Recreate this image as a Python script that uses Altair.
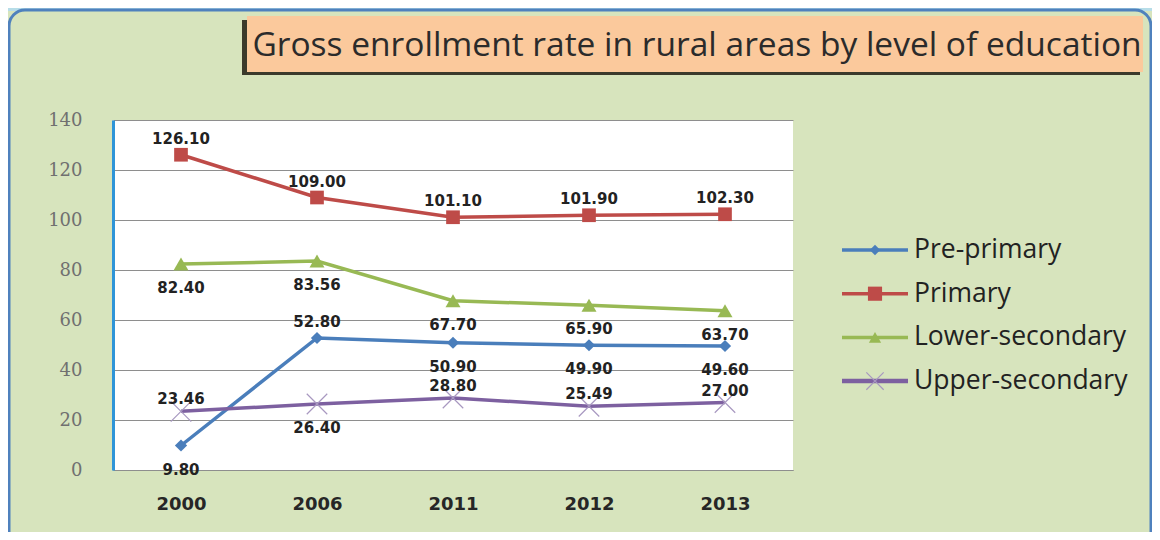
import altair as alt
import pandas as pd

# ---------------- data ----------------
years = ["2000", "2006", "2011", "2012", "2013"]
series_names = ["Pre-primary", "Primary", "Lower-secondary", "Upper-secondary"]
pre_primary = [9.80, 52.80, 50.90, 49.90, 49.60]
primary = [126.10, 109.00, 101.10, 101.90, 102.30]
lower_secondary = [82.40, 83.56, 67.70, 65.90, 63.70]
upper_secondary = [23.46, 26.40, 28.80, 25.49, 27.00]
y_ticks = [0, 20, 40, 60, 80, 100, 120, 140]
title_text = "Gross enrollment rate in rural areas by level of education"

# where each value label sits relative to its point
pre_primary_side = ["below", "above", "below", "below", "below"]
primary_side = ["above", "above", "above", "above", "above"]
lower_secondary_side = ["below", "below", "below", "below", "below"]
upper_secondary_side = ["above", "below", "above", "above", "above"]

rows = []
for name, vals, sides in zip(
    series_names,
    [pre_primary, primary, lower_secondary, upper_secondary],
    [pre_primary_side, primary_side, lower_secondary_side, upper_secondary_side],
):
    for yr, v, s in zip(years, vals, sides):
        rows.append({"year": yr, "series": name, "value": v,
                     "label": f"{v:.2f}", "side": s})
df = pd.DataFrame(rows)

colors = ["#4a7ebb", "#be4b48", "#98b954", "#7d60a0"]
X_PATH = "M-1,-1L1,1M-1,1L1,-1"

# ---------------- encodings ----------------
x_enc = alt.X(
    "year:O", sort=years,
    scale=alt.Scale(type="point", padding=0.5),
    axis=alt.Axis(title=None, labelAngle=0, ticks=False, grid=False,
                  domainColor="#8e8e8e", domainWidth=1,
                  labelFont="DejaVu Sans", labelFontWeight="bold",
                  labelFontSize=18, labelColor="#262626", labelPadding=25),
)
y_enc = alt.Y(
    "value:Q",
    scale=alt.Scale(domain=[0, 140], nice=False, zero=True),
    axis=alt.Axis(title=None, values=y_ticks, ticks=False, grid=True,
                  gridColor="#8e8e8e", gridWidth=1,
                  domainColor="#2f95d8", domainWidth=3,
                  labelFont="DejaVu Serif", labelFontSize=18,
                  labelColor="#707070", labelPadding=31),
)
color_enc = alt.Color("series:N", scale=alt.Scale(domain=series_names, range=colors), legend=None)

base = alt.Chart(df)

lines = base.mark_line().encode(
    x=x_enc, y=y_enc, color=color_enc,
    strokeWidth=alt.StrokeWidth("series:N",
                                scale=alt.Scale(domain=series_names, range=[3.5, 3.5, 3.5, 4.5]),
                                legend=None),
)

filled_pts = base.transform_filter(
    alt.datum.series != "Upper-secondary"
).mark_point(filled=True, opacity=1).encode(
    x=x_enc, y=y_enc, color=color_enc,
    shape=alt.Shape("series:N",
                    scale=alt.Scale(domain=series_names[:3],
                                    range=["diamond", "square", "triangle-up"]),
                    legend=None),
    size=alt.Size("series:N",
                  scale=alt.Scale(domain=series_names[:3], range=[150, 225, 200]),
                  legend=None),
)

x_pts = base.transform_filter(
    alt.datum.series == "Upper-secondary"
).mark_point(shape=X_PATH, size=420, filled=False, strokeWidth=1.2,
             color="#a898c0", opacity=1).encode(x=x_enc, y=y_enc)

label_style = dict(font="DejaVu Sans", fontWeight="bold", fontSize=15,
                   color="#222222", baseline="middle")
lab_above = base.transform_filter(
    (alt.datum.side == "above") & (alt.datum.series != "Upper-secondary")
).mark_text(dy=-16, **label_style).encode(x=x_enc, y=y_enc, text="label:N")
lab_above_upper = base.transform_filter(
    (alt.datum.side == "above") & (alt.datum.series == "Upper-secondary")
).mark_text(dy=-12, **label_style).encode(x=x_enc, y=y_enc, text="label:N")
lab_below = base.transform_filter(alt.datum.side == "below").mark_text(
    dy=24, **label_style).encode(x=x_enc, y=y_enc, text="label:N")

# ---------------- decoration (panel, title box) ----------------
one = alt.Chart(pd.DataFrame({"d": [0]}))

top_strip = one.mark_rect(color="#b7dde8").encode(
    x=alt.value(-105), x2=alt.value(1039), y=alt.value(-112), y2=alt.value(-109))
panel_border = one.mark_rect(filled=False, stroke="#4f81bd", strokeWidth=3,
                             cornerRadius=16).encode(
    x=alt.value(-104), x2=alt.value(1038), y=alt.value(-110), y2=alt.value(430))
title_shadow = one.mark_rect(color="#3b3a2c").encode(
    x=alt.value(129), x2=alt.value(1027), y=alt.value(-100), y2=alt.value(-45))
title_box = one.mark_rect(color="#fbc99c").encode(
    x=alt.value(134), x2=alt.value(1030), y=alt.value(-104), y2=alt.value(-48))
title_mark = one.mark_text(font="Open Sans", fontSize=33.5, color="#2b2b2b",
                           align="center", baseline="middle").encode(
    x=alt.value(584), y=alt.value(-74), text=alt.value(title_text))

# ---------------- legend ----------------
legend_top = 130
legend_gap = 43.7
legend_layers = []
legend_shapes = ["diamond", "square", "triangle-up", X_PATH]
legend_sizes = [110, 200, 150, 300]
for i, (name, col) in enumerate(zip(series_names, colors)):
    yy = legend_top + i * legend_gap
    legend_layers.append(one.mark_rule(color=col, strokeWidth=3.5 if i < 3 else 4.5).encode(
        x=alt.value(729), x2=alt.value(795), y=alt.value(yy)))
    if i < 3:
        legend_layers.append(one.mark_point(shape=legend_shapes[i], size=legend_sizes[i],
                                            filled=True, color=col, opacity=1).encode(
            x=alt.value(762), y=alt.value(yy)))
    else:
        legend_layers.append(one.mark_point(shape=X_PATH, size=legend_sizes[i], filled=False,
                                            strokeWidth=1.2, color="#a898c0", opacity=1).encode(
            x=alt.value(762), y=alt.value(yy)))
    legend_layers.append(one.mark_text(font="Open Sans", fontSize=26.5, color="#222222",
                                       align="left", baseline="middle").encode(
        x=alt.value(801), y=alt.value(yy), text=alt.value(name)))

chart = alt.layer(
    top_strip, panel_border, title_shadow, title_box, title_mark,
    lines, filled_pts, x_pts, lab_above, lab_above_upper, lab_below,
    *legend_layers,
).properties(
    width=680, height=350,
    padding={"left": 105, "top": 112, "right": 359, "bottom": 62},
    autosize=alt.AutoSizeParams(type="none"),
    background="#d7e4bd",
).configure_view(fill="white", stroke=None)

chart.save("out.html", embed_options={"renderer": "svg", "actions": False})
